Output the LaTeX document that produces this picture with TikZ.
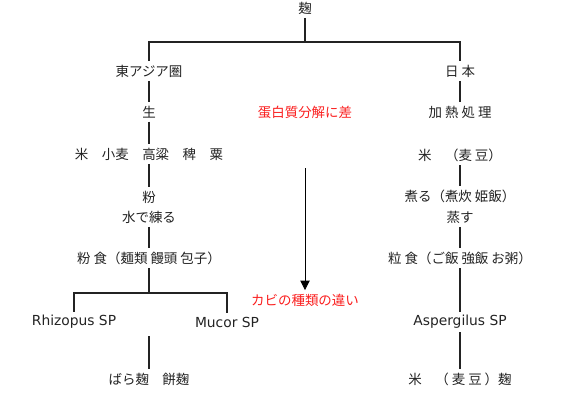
\documentclass[tikz,border=0pt]{standalone}
\usepackage{fontspec}
\setmainfont{Noto Sans CJK JP}
\newfontfamily\latinfont{DejaVu Sans}
\usetikzlibrary{arrows.meta, positioning}
\definecolor{mydark}{RGB}{35,35,35}
\definecolor{myred}{RGB}{250,30,30}
\tikzset{
  word/.style={font=\fontsize{11.5}{13}\selectfont, text=mydark,
    inner xsep=1pt, inner ysep=3pt},
  latin/.style={word, font=\latinfont\fontsize{11.8}{14}\selectfont},
  redword/.style={word, text=myred},
  line/.style={line width=1pt, color=mydark},
  arrow/.style={-{Triangle[width=8pt,length=8pt]}, line width=0.7pt, color=black}
}

\begin{document}
\begin{tikzpicture}[x=0.03cm, y=-0.03cm]
  \useasboundingbox (0,0) rectangle (571,400);

  % top and the two regions
  \node[word] (koji) at (305,8) {麹};
  \node[word] (east) at (149,71) {東アジア圏};
  \node[word] (japan) at (460,71) {日 本};
  \coordinate (top) at (305,42);
  \draw[line] (koji) -- (top);
  \draw[line] (east) |- (top) -| (japan);

  % east asia side
  \node[word] (nama) at (149,112) {生};
  \node[word] (grains) at (149,154) {米\quad 小麦\quad 高粱\quad 稗\quad 粟};
  \node[word] (flour) at (149,197) {粉};
  \node[word] (knead) at (149,217) {水で練る};
  \node[word] (flourfood) at (149,258) {粉 食（麺類 饅頭 包子）};
  \node[latin] (rhizo) at (74,322) {Rhizopus SP};
  \node[latin] (mucor) at (227,322) {Mucor SP};
  \node[word] (mochi) at (149,379) {ばら麹\quad 餅麹};
  \coordinate (split) at (149,293);
  \coordinate (mid) at (149,336);

  \draw[line] (east) -- (nama);
  \draw[line] (nama) -- (grains);
  \draw[line] (grains) -- (flour);
  \draw[line] (knead) -- (flourfood);
  \draw[line] (flourfood) -- (split);
  \draw[line] (rhizo) |- (split) -| (mucor);
  \draw[line] (mid) -- (mochi);

  % japan side
  \node[word] (heat) at (460,112) {加 熱 処 理};
  \node[word] (rice) at (460,155) {米\quad （麦 豆）};
  \node[word] (boil) at (460,196) {煮る（煮炊 姫飯）};
  \node[word] (steam) at (460,217) {蒸す};
  \node[word] (grainfood) at (460,258) {粒 食（ご飯 強飯 お粥）};
  \node[latin] (asper) at (460,322) {Aspergilus SP};
  \node[word] (ricekoji) at (460,379) {米\quad （ 麦 豆 ）麹};

  \draw[line] (japan) -- (heat);
  \draw[line] (rice) -- (boil);
  \draw[line] (steam) -- (grainfood);
  \draw[line] (grainfood) -- (asper);
  \draw[line] (asper) -- (ricekoji);

  % middle notes
  \node[redword] (diff) at (305,112) {蛋白質分解に差};
  \node[redword] (mold) at (305,300) {カビの種類の違い};
  \coordinate (arrtop) at (305,168);
  \draw[arrow] (arrtop) -- (mold);

\end{tikzpicture}
\end{document}
